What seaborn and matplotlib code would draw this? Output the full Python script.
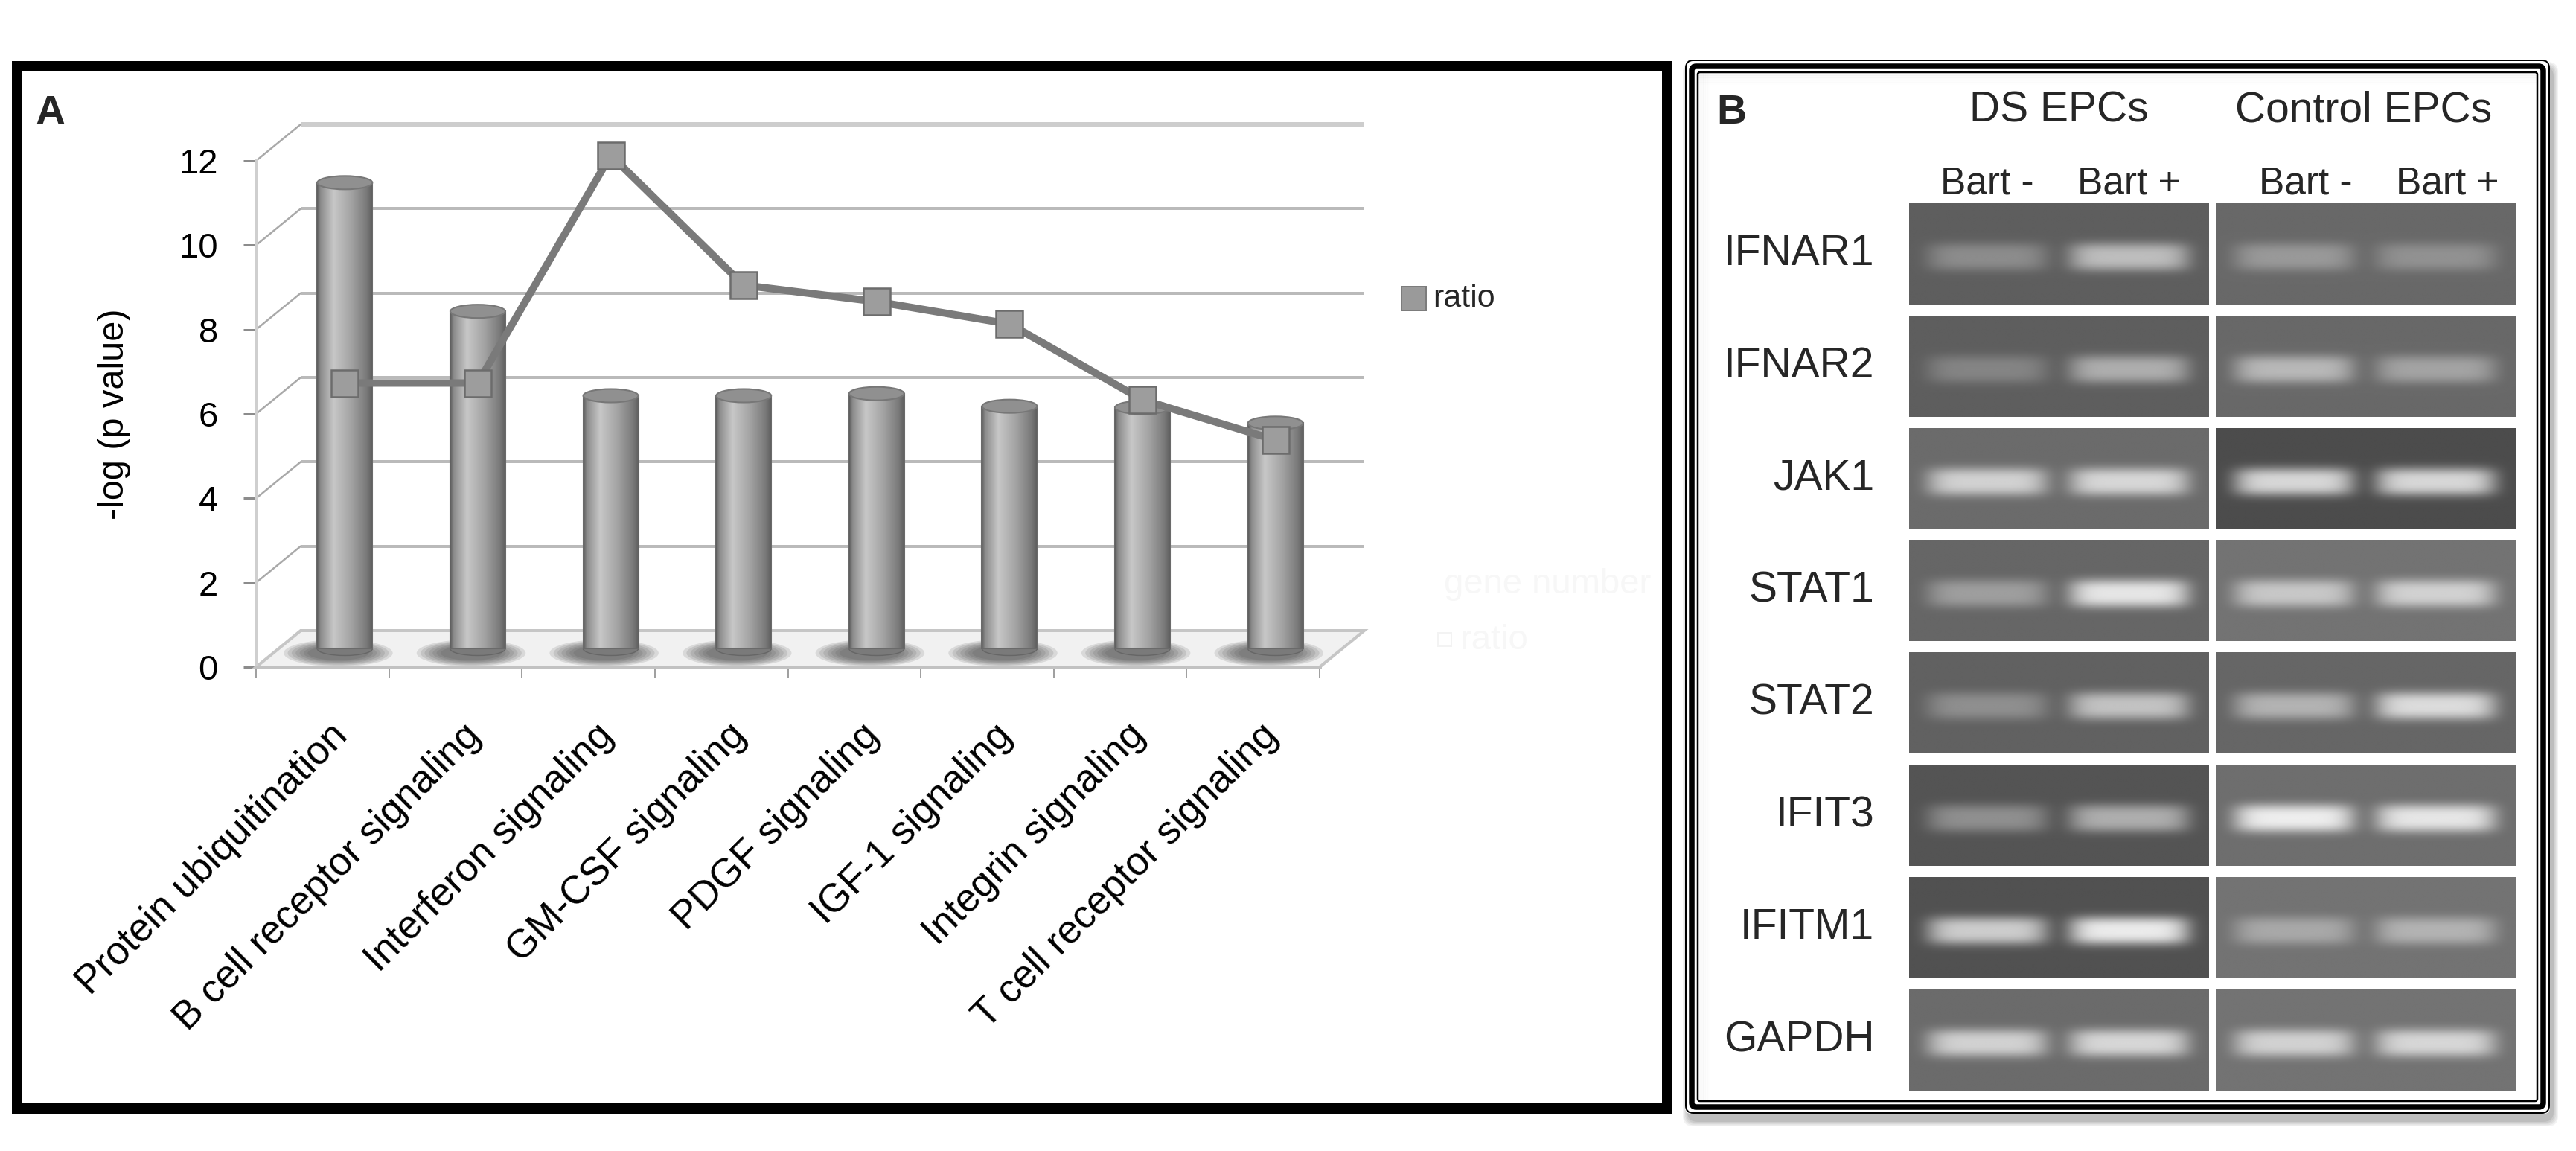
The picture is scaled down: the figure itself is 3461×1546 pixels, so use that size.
import numpy as np
import matplotlib
matplotlib.use('Agg')
import matplotlib.pyplot as plt
import seaborn as sns
from matplotlib import transforms, font_manager
from matplotlib.patches import Rectangle, Ellipse, Polygon, FancyBboxPatch

# ---- panel A data ----
pathways = ['Protein ubiquitination', 'B cell receptor signaling', 'Interferon signaling',
            'GM-CSF signaling', 'PDGF signaling', 'IGF-1 signaling', 'Integrin signaling',
            'T cell receptor signaling']
neg_log_p = [11.05, 8.0, 6.0, 6.0, 6.05, 5.75, 5.72, 5.35]
ratio = [6.3, 6.3, 11.7, 8.62, 8.23, 7.7, 5.9, 4.95]
y_ticks = [0, 2, 4, 6, 8, 10, 12]

# ---- panel B data (gel band brightness, 0 = black, 1 = white) ----
genes = ['IFNAR1', 'IFNAR2', 'JAK1', 'STAT1', 'STAT2', 'IFIT3', 'IFITM1', 'GAPDH']
groups = ['DS EPCs', 'Control EPCs']
lanes = ['Bart -', 'Bart +']
ds_background = [0.37, 0.37, 0.42, 0.40, 0.38, 0.33, 0.32, 0.42]
ds_bart_minus = [0.55, 0.52, 0.82, 0.62, 0.56, 0.56, 0.80, 0.82]
ds_bart_plus = [0.74, 0.68, 0.84, 0.90, 0.76, 0.68, 0.92, 0.84]
ctrl_background = [0.41, 0.41, 0.30, 0.45, 0.40, 0.43, 0.45, 0.45]
ctrl_bart_minus = [0.60, 0.72, 0.84, 0.78, 0.70, 0.93, 0.66, 0.82]
ctrl_bart_plus = [0.57, 0.64, 0.84, 0.82, 0.86, 0.90, 0.70, 0.84]

W, H, DPI = 3461, 1546, 100
sns.set_theme(style='white')
plt.rcParams['font.family'] = ['Liberation Sans', 'DejaVu Sans']
names = {f.name for f in font_manager.fontManager.ttflist}
narrow = 'Liberation Sans Narrow' if 'Liberation Sans Narrow' in names else 'Liberation Sans'

fig = plt.figure(figsize=(W / DPI, H / DPI), dpi=DPI)


def box(x0, y0, x1, y1):
    return [x0 / W, 1 - y1 / H, (x1 - x0) / W, (y1 - y0) / H]


def pt(px):
    return px * 72 / DPI


# background layer (pixel coords) for shadows
under = fig.add_axes([0, 0, 1, 1], zorder=0)
under.set_xlim(0, W)
under.set_ylim(H, 0)
under.axis('off')
for k, a in enumerate([0.05, 0.05, 0.05, 0.06, 0.07]):
    g = 14 - 3 * k
    under.add_patch(FancyBboxPatch((2264 + 4 - g / 2, 80 + 10 - g / 2), 1162 + g, 1416 + g,
                                   boxstyle='round,pad=0,rounding_size=14', facecolor='black',
                                   edgecolor='none', alpha=a))
under.add_patch(FancyBboxPatch((2264, 80), 1162, 1416, boxstyle='round,pad=0,rounding_size=8',
                               facecolor='white', edgecolor='none'))

# ---- panel A ----
ax = fig.add_axes(box(344, 216, 1773, 896), zorder=2)
ax.patch.set_alpha(0)
px_cat = 1429 / 8
px_unit = 680 / 12
ddx, ddy = 60 / px_cat, 49 / px_unit
half = transforms.ScaledTranslation(30 / DPI, 24.5 / DPI, fig.dpi_scale_trans)

sns.barplot(x=pathways, y=neg_log_p, ax=ax, color='#999999', saturation=1, width=0.414,
            edgecolor='#6a6a6a', linewidth=1.5, zorder=3)

shade_t = np.linspace(0, 1, 80)
shade = np.interp(shade_t, [0, 0.06, 0.3, 0.62, 0.9, 1], [0.38, 0.55, 0.78, 0.64, 0.48, 0.38])
cap_h = 18 / px_unit
for p in list(ax.patches):
    p.set_transform(ax.transData + half)
    p.set_clip_on(False)
    x0, w, h = p.get_x(), p.get_width(), p.get_height()
    cx = x0 + w / 2
    # soft shadow at base
    for k in range(7):
        e = Ellipse((cx - 0.05, -0.1), 0.82 - 0.06 * k, 0.64 - 0.05 * k, facecolor='#3c3c3c',
                    edgecolor='none', alpha=0.13, zorder=2, clip_on=False)
        e.set_transform(ax.transData + half)
        ax.add_patch(e)
    bot = Ellipse((cx, 0), w, cap_h, facecolor='#7a7a7a', edgecolor='#666666', lw=1,
                  zorder=2.9, clip_on=False)
    bot.set_transform(ax.transData + half)
    ax.add_patch(bot)
    im = ax.imshow(shade[None, :], cmap='gray', vmin=0, vmax=1, aspect='auto',
                   extent=(x0, x0 + w, 0, h), interpolation='bilinear', zorder=3.5)
    im.set_transform(ax.transData + half)
    im.set_clip_path(p)
    top = Ellipse((cx, h), w, cap_h, facecolor='#909090', edgecolor='#777777', lw=1.5,
                  zorder=4, clip_on=False)
    top.set_transform(ax.transData + half)
    ax.add_patch(top)

# floor and back wall
ax.add_patch(Polygon([(-0.5, 0), (7.5, 0), (7.5 + ddx, ddy), (-0.5 + ddx, ddy)],
                     closed=True, facecolor='#f1f1f1', edgecolor='#c6c6c6', lw=pt(4),
                     zorder=1, clip_on=False))
for y in y_ticks[1:]:
    top_line = y == y_ticks[-1]
    ax.plot([-0.5 + ddx, 7.5 + ddx], [y + ddy, y + ddy], color='#cdcdcd' if top_line else '#bababa',
            lw=pt(6 if top_line else 4), zorder=0.5, clip_on=False, solid_capstyle='butt')
for y in y_ticks:
    ax.plot([-0.5, -0.5 + ddx], [y, y + ddy], color='#a9a9a9', lw=pt(2.5), zorder=0.6,
            clip_on=False)

sns.lineplot(x=np.arange(len(ratio)), y=ratio, ax=ax, color='#7a7a7a', marker='s',
             markersize=pt(36), markerfacecolor='#9d9d9d', markeredgecolor='#6c6c6c',
             markeredgewidth=pt(2.5), zorder=6)
ln = ax.lines[-1]
ln.set_linewidth(pt(10))
ln.set_transform(ax.transData + half)
ln.set_clip_on(False)

ax.set_xlim(-0.5, 7.5)
ax.set_ylim(0, 12)
ax.set_xticks(np.arange(-0.5, 8, 1))
ax.set_xticklabels([])
ax.set_yticks(y_ticks)
ax.set_yticklabels([str(v) for v in y_ticks])
ax.set_xlabel('')
ax.tick_params(axis='x', bottom=True, length=pt(15), width=pt(2), color='#a0a0a0', direction='out')
ax.tick_params(axis='y', left=True, length=pt(17), width=pt(3), color='#8c8c8c', direction='out',
               pad=pt(34), labelsize=34, labelcolor='black')
for s in ['top', 'right']:
    ax.spines[s].set_visible(False)
ax.spines['left'].set_color('#cfcfcf')
ax.spines['left'].set_linewidth(pt(4))
ax.spines['bottom'].set_color('#c2c2c2')
ax.spines['bottom'].set_linewidth(pt(5))
ax.set_ylabel('-log (p value)', fontsize=35, color='black')
ax.yaxis.set_label_coords(-0.1176, 0.5)
for i, name in enumerate(pathways):
    ax.text(i + 0.2, -1.66, name, rotation=45, rotation_mode='anchor', ha='right',
            va='baseline', fontsize=38, color='black', clip_on=False)

# ---- panel B gel ----
gx = fig.add_axes(box(2565, 273, 3379, 1465), zorder=2)
gx.axis('off')
xs = np.linspace(0, 1, 220)
ys = np.linspace(0, 1, 70)
XX, YY = np.meshgrid(xs, ys)
vert = np.exp(-np.abs((YY - 0.53) / 0.14) ** 3)


def band(center):
    return np.exp(-np.abs((XX - center) / 0.2) ** 6) * vert


block_w = 0.988
lane_c = [0.26, 0.735]
sets = [(ds_background, ds_bart_minus, ds_bart_plus), (ctrl_background, ctrl_bart_minus, ctrl_bart_plus)]
for c, (bgs, minus, plus) in enumerate(sets):
    x0 = c * 1.012
    for r in range(len(genes)):
        bg = bgs[r]
        img = bg + (minus[r] - bg) * band(lane_c[0]) + (plus[r] - bg) * band(lane_c[1])
        gx.imshow(img, cmap='gray', vmin=0, vmax=1, aspect='auto', interpolation='bilinear',
                  extent=(x0, x0 + block_w, r + 0.9, r), origin='upper')
    gx.text(x0 + block_w / 2 - 0.005 * c, -0.729, groups[c], ha='center', va='baseline',
            fontsize=41, clip_on=False)
    for j, lab in enumerate(lanes):
        gx.text(x0 + lane_c[j] * block_w + 0.04 * c, -0.086, lab, ha='center', va='baseline',
                fontsize=37, clip_on=False)
gx.set_xlim(0, 2)
gx.set_ylim(7.9, 0)
for r, g in enumerate(genes):
    gx.text(-0.115, r + 0.45, g, ha='right', va='center', fontsize=41, clip_on=False)

# ---- frames, panel letters, legend (pixel coords) ----
over = fig.add_axes([0, 0, 1, 1], zorder=5)
over.set_xlim(0, W)
over.set_ylim(H, 0)
over.axis('off')
over.patch.set_alpha(0)

over.text(48, 167, 'A', fontsize=40, fontweight='bold', ha='left', va='baseline')
over.text(2306, 166, 'B', fontsize=40, fontweight='bold', family=narrow, ha='left', va='baseline')

over.add_patch(Rectangle((1883, 385), 33, 32, facecolor='#9a9a9a', edgecolor='#7c7c7c', lw=pt(2)))
over.text(1925, 401, 'ratio', fontsize=31, ha='left', va='center')
over.text(1940, 785, 'gene number', fontsize=34, ha='left', va='center', color='#f7f7f7')
over.add_patch(Rectangle((1932, 850), 18, 18, facecolor='none', edgecolor='#f3f3f3', lw=pt(2)))
over.text(1962, 860, 'ratio', fontsize=34, ha='left', va='center', color='#f7f7f7')

over.add_patch(Rectangle((23, 89), 2217, 1400, fill=False, edgecolor='black', lw=pt(14),
                         joinstyle='miter'))
for inset, lw in [(1, 2), (9, 7.5), (17, 2.5)]:
    over.add_patch(FancyBboxPatch((2264 + inset, 80 + inset), 1162 - 2 * inset, 1416 - 2 * inset,
                                  boxstyle='round,pad=0,rounding_size=%d' % max(10 - inset // 2, 3),
                                  facecolor='none', edgecolor='black', lw=pt(lw)))
for k in range(10):
    over.plot([2282, 3408], [99 + k * 1.5, 99 + k * 1.5], color='black', alpha=0.035 * (10 - k) / 10,
              lw=pt(1.5))
    over.plot([2283 + k * 1.5, 2283 + k * 1.5], [99, 1478], color='black',
              alpha=0.03 * (10 - k) / 10, lw=pt(1.5))

fig.savefig('out.png', dpi=DPI, facecolor='white')
